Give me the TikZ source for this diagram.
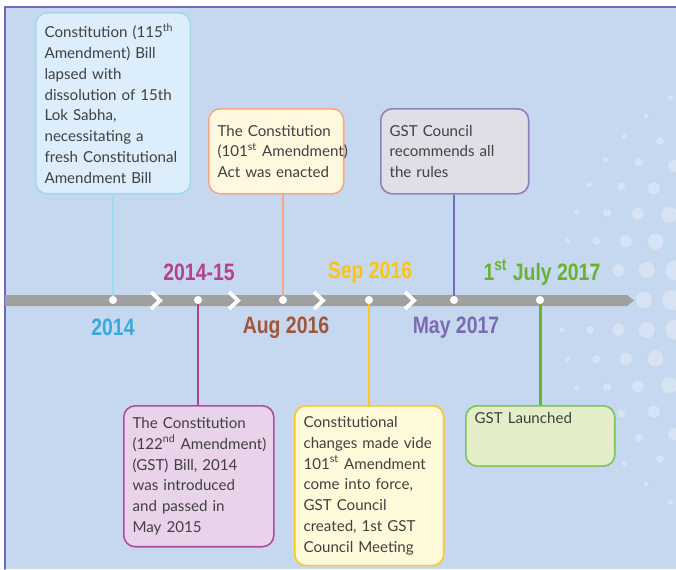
\documentclass[tikz,border=0pt]{standalone}
\usepackage{fontspec}
\setmainfont{Lato}
\newfontfamily\datefont[FakeStretch=0.82]{Liberation Sans}
\usetikzlibrary{calc}

\definecolor{bgblue}{HTML}{C6D8EF}
\definecolor{framecol}{HTML}{6B6BBE}
\definecolor{bargray}{HTML}{A0A0A0}
\definecolor{txtgray}{HTML}{404040}
\definecolor{bluebg}{HTML}{DCEEFB}
\definecolor{bluebd}{HTML}{A3D9EF}
\definecolor{salmbg}{HTML}{FFF8DE}
\definecolor{salmbd}{HTML}{F3A98C}
\definecolor{lavbg}{HTML}{E2DEE7}
\definecolor{lavbd}{HTML}{8C83BE}
\definecolor{lavln}{HTML}{7A6BB6}
\definecolor{pinkbg}{HTML}{E8D3EA}
\definecolor{pinkbd}{HTML}{B5499A}
\definecolor{yellbg}{HTML}{FFFAD9}
\definecolor{yellbd}{HTML}{FFC81A}
\definecolor{grnbg}{HTML}{E3EEC8}
\definecolor{grnbd}{HTML}{7CC25B}
\definecolor{cblue}{HTML}{3AA7DF}
\definecolor{cmag}{HTML}{B3418F}
\definecolor{cbrown}{HTML}{A2553B}
\definecolor{cyell}{HTML}{FFC312}
\definecolor{cpurp}{HTML}{7B6AB1}
\definecolor{cgreen}{HTML}{69B22F}

\newcommand\evfont{\fontsize{8.6}{11.8}\selectfont\hyphenpenalty 10000 }

\tikzset{
  evbox/.style={rounded corners=6.5pt, line width=0.9pt, anchor=north west,
    align=left, inner xsep=5pt, inner ysep=4pt, text=txtgray, font=\evfont},
  conn/.style={line width=1.7pt, line cap=butt},
  tdot/.style={circle, fill=white, inner sep=0pt, minimum size=4.6pt},
  chev/.style={white, line width=2.2pt, line cap=butt, line join=miter},
  datelbl/.style={font=\datefont\bfseries\fontsize{13.5}{15}\selectfont, inner sep=0pt}
}

\begin{document}
\begin{tikzpicture}[x=0.02cm,y=-0.02cm,line cap=round,line join=round]
  \useasboundingbox (0,0) rectangle (676,569);
  % background and frame
  \fill[bgblue] (5,7) rectangle (676,569);
  \begin{scope}
    \clip (5,7) rectangle (676,569);
    \foreach \R/\s/\n in {100/12/4,128/10/5,156/8/6,184/6/7,212/4/8,240/2.5/9}
      \foreach \k in {-\n,...,\n}
        \fill[white,opacity=0.3] ($(800,300)+({180+\k*(30/\R)*57.3}:\R)$) circle (\s);
  \end{scope}
  \draw[framecol,line width=1.1pt] (5,569) -- (5,7) -- (676,7);

  % timeline bar
  \fill[bargray] (5,295) -- (627,295) -- (634,300.5) -- (627,306) -- (5,306) -- cycle;
  \foreach \x in {156,234,319,410}
    \draw[chev] (\x-5,292) -- (\x+4,300.5) -- (\x-5,309);

  \coordinate (p1) at (113,300);
  \coordinate (p2) at (198,300);
  \coordinate (p3) at (283,300);
  \coordinate (p4) at (369,300);
  \coordinate (p5) at (454,300);
  \coordinate (p6) at (540,300);

  % event boxes
  \node[evbox, draw=bluebd, fill=bluebg, text width=78pt, minimum height=103pt] (b1) at (35,12)
    {Constitution (115\textsuperscript{th}\\Amendment) Bill\\lapsed with\\dissolution of 15th\\Lok Sabha,\\necessitating a\\fresh~Constitutional\\Amendment Bill};
  \node[evbox, draw=salmbd, fill=salmbg, text width=66.8pt, minimum height=48.4pt] (b2) at (208,108)
    {The~Constitution\\(101\textsuperscript{st}~Amendment)\\Act~was~enacted};
  \node[evbox, draw=lavbd, fill=lavbg, text width=74.2pt, minimum height=48.4pt] (b3) at (380,108)
    {GST Council\\recommends all\\the rules};
  \node[evbox, draw=pinkbd, fill=pinkbg, text width=75.4pt, minimum height=80.2pt] (b4) at (123,405)
    {The Constitution\\(122\textsuperscript{nd}~Amendment)\\(GST) Bill, 2014\\was introduced\\and passed in\\May 2015};
  \node[evbox, draw=yellbd, fill=yellbg, text width=74.8pt, minimum height=91pt] (b5) at (294,405)
    {Constitutional\\changes~made~vide\\101\textsuperscript{st}~Amendment\\come into force,\\GST Council\\created, 1st GST\\Council Meeting};
  \node[evbox, draw=grnbd, fill=grnbg, text width=74.8pt, text depth=20pt] (b6) at (465,405)
    {GST Launched};

  % connectors
  \draw[conn, bluebd] (b1.south -| p1) -- (p1);
  \draw[conn, salmbd] (b2.south -| p3) -- (p3);
  \draw[conn, lavln] (b3.south -| p5) -- (p5);
  \draw[conn, cmag] (p2) -- (b4.north -| p2);
  \draw[conn, yellbd] (p4) -- (b5.north -| p4);
  \draw[conn, cgreen] (p6) -- (b6.north -| p6);

  \foreach \i in {1,...,6}
    \node[tdot] (d\i) at (p\i) {};

  % dates
  \node[datelbl, text=cblue] (l1) at (113,327.5) {2014};
  \node[datelbl, text=cmag] (l2) at (199,272.5) {2014-15};
  \node[datelbl, text=cbrown] (l3) at (286,327.5) {Aug 2016};
  \node[datelbl, text=cyell] (l4) at (370,272.5) {Sep 2016};
  \node[datelbl, text=cpurp] (l5) at (456,327.5) {May 2017};
  \node[datelbl, text=cgreen] (l6) at (542,272.5) {1\textsuperscript{st} July 2017};
\end{tikzpicture}
\end{document}
